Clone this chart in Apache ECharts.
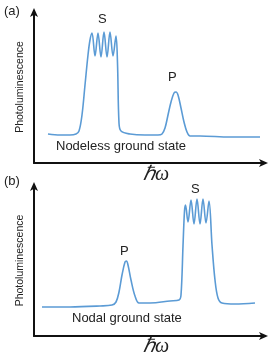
<!DOCTYPE html>
<html>
<head>
<meta charset="utf-8">
<script src="https://cdn.jsdelivr.net/npm/echarts@6/dist/echarts.min.js"></script>
<style>html,body{margin:0;padding:0;background:#fff}#c{width:272px;height:359px}</style>
</head>
<body>
<div id="c"></div>
<script>
// Panel (a): Nodeless ground state — photon energy (x) vs photoluminescence (y), arbitrary units
const energyA = [48,60,70,76,79,82,85,88,90,92,95,98,101,104,107,110,113,116,117.5,119,121,130,145,158,162,165,168,171,174,176,178,181,184,187,190,200,230,260];
const plA     = [29,28,28,29,32,48,78,108,123,130,107,130,106,131,106,131,107,127,100,40,32,29,28,28,29,35,48,61,70,71,68,55,41,31,27,27,26,26];
// Panel (b): Nodal ground state
const energyB = [42,70,100,112,116,119,122,125,126.5,128,131,135,139,150,170,179,181,183,184.5,185.5,188,191,194,197,200,203,206,209,212,215,218,222,235,255];
const plB     = [29,29,30,31,34,44,61,74,75,71,56,40,33,33,35,36,41,90,125,131,114,136,112,137,112,137,113,135,91,56,38,33,32,33];
const labelsA = {peak1:'S', peak2:'P', state:'Nodeless ground state', panel:'(a)'};
const labelsB = {peak1:'P', peak2:'S', state:'Nodal ground state', panel:'(b)'};
const yName = 'Photoluminescence';
const xName = 'ℏω';

const chart = echarts.init(document.getElementById('c'), null, {renderer:'canvas'});
const lineColor = '#5B9BD5';
function axisX(idx){
  return {gridIndex:idx, type:'value', min:34, max:265, axisLine:{show:true,lineStyle:{color:'#111',width:2},symbol:['none','arrow'],symbolSize:[6,9],symbolOffset:[0,3]},axisTick:{show:false},axisLabel:{show:false},splitLine:{show:false}};
}
function axisY(idx,max){
  return {gridIndex:idx, type:'value', min:0, max:max, name:yName, nameLocation:'middle', nameRotate:90, nameGap:8,
    nameTextStyle:{fontFamily:'Liberation Sans', fontSize:10.5, color:'#222'},
    axisLine:{show:true,onZero:false,lineStyle:{color:'#111',width:2},symbol:['none','arrow'],symbolSize:[6,9],symbolOffset:[0,3]},axisTick:{show:false},axisLabel:{show:false},splitLine:{show:false}};
}
const txt = (x,y,t,size,extra)=>Object.assign({type:'text', left:x, top:y, style:Object.assign({text:t, font:size+'px "Liberation Sans"', fill:'#222'}, extra||{})});
chart.setOption({
  animation:false,
  grid:[{left:34,right:7,top:11,bottom:196},{left:34,right:7,top:185,bottom:23}],
  xAxis:[axisX(0),axisX(1)],
  yAxis:[axisY(0,152),axisY(1,151)],
  series:[
    {type:'line',xAxisIndex:0,yAxisIndex:0,data:energyA.map((e,i)=>[e,plA[i]]),smooth:0.35,showSymbol:false,lineStyle:{color:lineColor,width:1.6}},
    {type:'line',xAxisIndex:1,yAxisIndex:1,data:energyB.map((e,i)=>[e,plB[i]]),smooth:0.35,showSymbol:false,lineStyle:{color:lineColor,width:1.6}}
  ],
  graphic:[
    txt(4,5,labelsA.panel,13),
    txt(98,13,labelsA.peak1,13),
    txt(168,71,labelsA.peak2,13),
    txt(56,140,labelsA.state,13),
    {type:'text', left:143, top:165, style:{text:xName, font:'italic 20px "Liberation Serif"', fill:'#222'}},
    txt(4,175,labelsB.panel,13),
    txt(191,183,labelsB.peak2,13),
    txt(120,245,labelsB.peak1,13),
    txt(72,312,labelsB.state,13),
    {type:'text', left:143, top:337, style:{text:xName, font:'italic 20px "Liberation Serif"', fill:'#222'}}
  ]
});
</script>
</body>
</html>
